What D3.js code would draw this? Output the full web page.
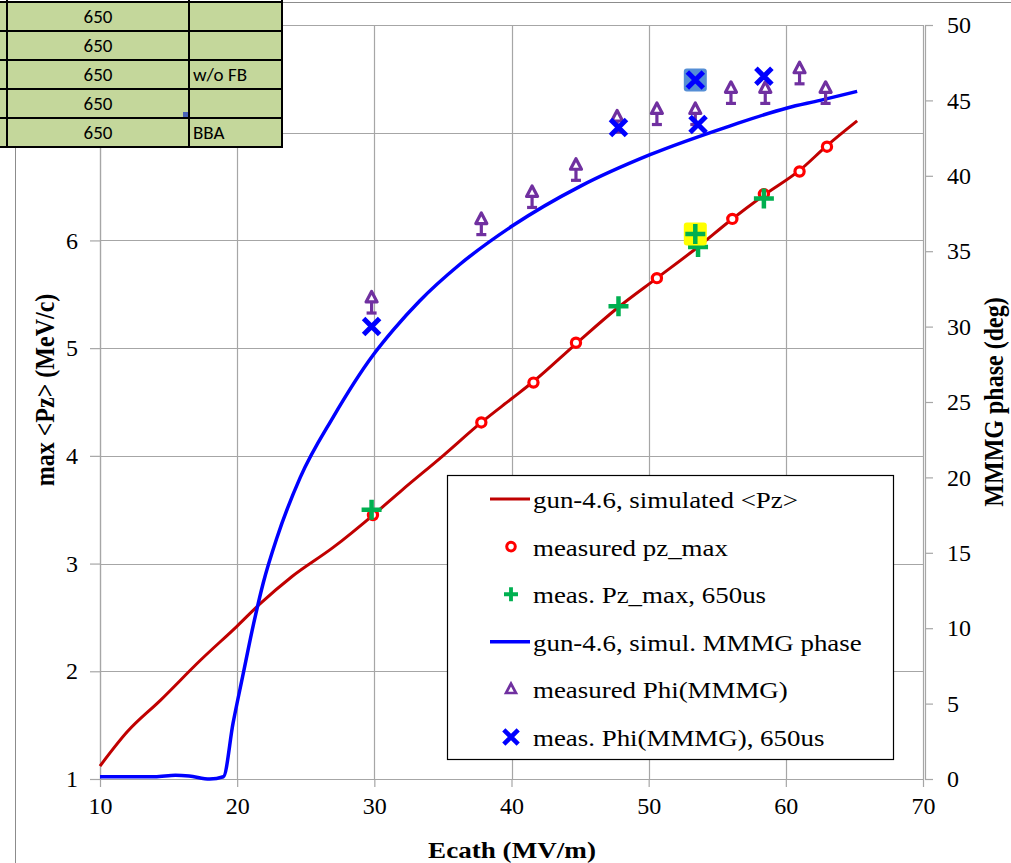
<!DOCTYPE html>
<html>
<head>
<meta charset="utf-8">
<script src="https://cdn.jsdelivr.net/npm/d3@7"></script>
<style>
  body { margin: 0; background: #fff; }
  svg { display: block; }
</style>
</head>
<body>
<svg id="chart" width="1011" height="863"></svg>
<script>
// simulated <Pz> (gun-4.6)
var simPzEcath = [10, 12, 14.4, 17.3, 20, 21.7, 24, 27, 30, 32, 35, 37.8, 40, 41.6, 44.7, 47.7, 50.6, 53.5, 56, 58.4, 61, 63, 65.2];
var simPzValue = [1.12, 1.44, 1.73, 2.10, 2.42, 2.63, 2.88, 3.15, 3.46, 3.68, 4.0, 4.31, 4.53, 4.69, 5.04, 5.37, 5.65, 5.93, 6.19, 6.42, 6.65, 6.88, 7.11];

// simulated MMMG phase (gun-4.6)
var simPhiEcath = [10, 12, 14, 15.5, 16.5, 18, 19, 19.7, 20.4, 21.2, 21.9, 22.9, 24.6, 27, 29.9, 31.4, 33.3, 36.2, 40.1, 45, 50.1, 55.9, 60.1, 62.5, 65.2];
var simPhiValue = [0.15, 0.15, 0.15, 0.25, 0.2, 0, 0.15, 3.7, 6.8, 10.3, 13.0, 16.0, 20.0, 24.0, 28.1, 29.8, 31.7, 34.1, 36.7, 39.3, 41.4, 43.3, 44.5, 45.0, 45.6];

// measured pz_max
var measPzEcath = [29.9, 37.8, 41.6, 44.7, 50.6, 56.1, 58.4, 61, 63];
var measPzValue = [3.45, 4.31, 4.68, 5.05, 5.65, 6.2, 6.43, 6.64, 6.87];

// meas. Pz_max, 650us
var pz650Ecath = [29.8, 47.8, 53.6, 58.4, 53.4];
var pz650Value = [3.5, 5.39, 5.94, 6.39, 6.06];
var pz650Selected = [false, false, false, false, true];

// measured Phi(MMMG) with lower error
var measPhiEcath = [29.8, 37.8, 41.5, 44.7, 47.7, 50.6, 53.4, 56.0, 58.5, 61.0, 62.9];
var measPhiValue = [31.9, 37.1, 38.9, 40.7, 43.9, 44.4, 44.4, 45.8, 45.8, 47.1, 45.8];
var measPhiErr = [1.0, 1.0, 1.0, 1.0, 1.0, 1.0, 1.0, 1.0, 1.0, 1.0, 1.0];

// meas. Phi(MMMG), 650us
var phi650Ecath = [29.8, 47.8, 53.6, 58.4, 53.4];
var phi650Value = [30.0, 43.2, 43.4, 46.6, 46.35];
var phi650Selected = [false, false, false, false, true];

var xTicks = [10, 20, 30, 40, 50, 60, 70];
var yLeftTicks = [1, 2, 3, 4, 5, 6, 7, 8];
var yRightTicks = [0, 5, 10, 15, 20, 25, 30, 35, 40, 45, 50];

var legendLabels = [
  "gun-4.6, simulated <Pz>",
  "measured pz_max",
  "meas. Pz_max, 650us",
  "gun-4.6, simul. MMMG phase",
  "measured Phi(MMMG)",
  "meas. Phi(MMMG), 650us"
];

var tableCol2 = ["650", "650", "650", "650", "650"];
var tableCol3 = ["", "", "w/o FB", "", "BBA"];

var serif = "Liberation Serif, Times New Roman, serif";
var svg = d3.select("#chart");

var xScale = d3.scaleLinear().domain([10, 70]).range([100, 923]);
var yLeft = d3.scaleLinear().domain([1, 8]).range([779, 25]);
var yRight = d3.scaleLinear().domain([0, 50]).range([779, 25]);

// outer chart border
svg.append("rect")
    .attr("x", 15.5).attr("y", 2.5)
    .attr("width", 1100).attr("height", 1000)
    .attr("fill", "none")
    .attr("stroke", "#8c8c8c");

// gridlines
var grid = svg.append("g").attr("stroke", "#a6a6a6").attr("stroke-width", 1.2);
grid.selectAll(".vg")
  .data(xTicks)
  .enter().append("line")
    .attr("x1", d => Math.round(xScale(d)) + 0.5)
    .attr("x2", d => Math.round(xScale(d)) + 0.5)
    .attr("y1", yLeft(8)).attr("y2", yLeft(1));
grid.selectAll(".hg")
  .data(yLeftTicks)
  .enter().append("line")
    .attr("x1", xScale(10)).attr("x2", xScale(70))
    .attr("y1", d => Math.round(yLeft(d)) + 0.5)
    .attr("y2", d => Math.round(yLeft(d)) + 0.5);

// axes
function styleAxis(g) {
  g.attr("font-family", serif).attr("font-size", 24);
  g.select(".domain").attr("stroke", "#a6a6a6").attr("stroke-width", 1.2);
  g.selectAll(".tick line").attr("stroke", "#a6a6a6").attr("stroke-width", 1.2);
  g.selectAll(".tick text")
      .attr("fill", "#000")
      .attr("font-family", serif)
      .attr("font-size", 24);
}

var intFmt = d3.format("d");

svg.append("g")
    .attr("transform", "translate(0," + yLeft(1) + ")")
    .call(d3.axisBottom(xScale).tickValues(xTicks).tickFormat(intFmt)
            .tickSize(8).tickSizeOuter(0).tickPadding(10))
    .call(styleAxis);

svg.append("g")
    .attr("transform", "translate(" + xScale(10) + ",0)")
    .call(d3.axisLeft(yLeft).tickValues(yLeftTicks).tickFormat(intFmt)
            .tickSize(10).tickSizeOuter(0).tickPadding(12))
    .call(styleAxis);

svg.append("g")
    .attr("transform", "translate(" + (xScale(70) + 2) + ",0)")
    .call(d3.axisRight(yRight).tickValues(yRightTicks).tickFormat(intFmt)
            .tickSize(8).tickSizeOuter(0).tickPadding(14))
    .call(styleAxis);

// axis titles
svg.append("text")
    .attr("transform", "translate(512,858) scale(1.13,1)")
    .attr("text-anchor", "middle")
    .attr("font-family", serif)
    .attr("font-size", 24)
    .attr("font-weight", "bold")
    .text("Ecath (MV/m)");

svg.append("text")
    .attr("transform", "translate(54,390) rotate(-90) scale(1,1.15)")
    .attr("text-anchor", "middle")
    .attr("font-family", serif)
    .attr("font-size", 24)
    .attr("font-weight", "bold")
    .text("max <Pz> (MeV/c)");

svg.append("text")
    .attr("transform", "translate(1003,402) rotate(-90) scale(1,1.15)")
    .attr("text-anchor", "middle")
    .attr("font-family", serif)
    .attr("font-size", 24)
    .attr("font-weight", "bold")
    .text("MMMG phase (deg)");

// simulated lines
var pzLine = d3.line()
               .x(d => xScale(d[0]))
               .y(d => yLeft(d[1]))
               .curve(d3.curveMonotoneX);
var phiLine = d3.line()
                .x(d => xScale(d[0]))
                .y(d => yRight(d[1]))
                .curve(d3.curveMonotoneX);

svg.append("path")
    .datum(d3.zip(simPzEcath, simPzValue))
    .attr("fill", "none")
    .attr("stroke", "#c00000")
    .attr("stroke-width", 3)
    .attr("d", pzLine);

svg.append("path")
    .datum(d3.zip(simPhiEcath, simPhiValue))
    .attr("fill", "none")
    .attr("stroke", "#0000ff")
    .attr("stroke-width", 3.5)
    .attr("stroke-linejoin", "round")
    .attr("d", phiLine);

// marker shapes
var plusPath = "M-10,0H10M0,-10V10";
var crossPath = "M-8,-8L8,8M-8,8L8,-8";
var triPath = "M0,-6.5L5.5,4L-5.5,4Z";

// measured Phi(MMMG): error bar + triangle
var phiData = measPhiEcath.map((e, i) => ({ x: e, y: measPhiValue[i], err: measPhiErr[i] }));
var tri = svg.append("g").selectAll(".tri")
  .data(phiData)
  .enter().append("g")
    .attr("transform", d => "translate(" + xScale(d.x) + "," + yRight(d.y) + ")");
tri.append("line")
    .attr("x1", 0).attr("x2", 0)
    .attr("y1", 0).attr("y2", d => yRight(d.y - d.err) - yRight(d.y))
    .attr("stroke", "#7030a0").attr("stroke-width", 3.2);
tri.append("line")
    .attr("x1", -5).attr("x2", 5)
    .attr("y1", d => yRight(d.y - d.err) - yRight(d.y))
    .attr("y2", d => yRight(d.y - d.err) - yRight(d.y))
    .attr("stroke", "#7030a0").attr("stroke-width", 3.2);
tri.append("path")
    .attr("d", triPath)
    .attr("fill", "#fff")
    .attr("stroke", "#7030a0")
    .attr("stroke-width", 3.2)
    .attr("stroke-linejoin", "round");

// measured pz_max circles
svg.append("g").selectAll("circle")
  .data(d3.zip(measPzEcath, measPzValue))
  .enter().append("circle")
    .attr("cx", d => xScale(d[0]))
    .attr("cy", d => yLeft(d[1]))
    .attr("r", 4.6)
    .attr("fill", "#fff")
    .attr("stroke", "#ff0000")
    .attr("stroke-width", 3.2);

// meas. Pz_max 650us plus
var pzSel = svg.append("g").selectAll(".plus")
  .data(d3.zip(pz650Ecath, pz650Value, pz650Selected))
  .enter().append("g")
    .attr("transform", d => "translate(" + xScale(d[0]) + "," + yLeft(d[1]) + ")");
pzSel.filter(d => d[2]).append("rect")
    .attr("x", -11.5).attr("y", -11.5)
    .attr("width", 23).attr("height", 23)
    .attr("rx", 3)
    .attr("fill", "#ffff00");
pzSel.append("path")
    .attr("d", plusPath)
    .attr("stroke", "#00b050")
    .attr("stroke-width", 4.5);

// meas. Phi 650us crosses
var phiSel = svg.append("g").selectAll(".cross")
  .data(d3.zip(phi650Ecath, phi650Value, phi650Selected))
  .enter().append("g")
    .attr("transform", d => "translate(" + xScale(d[0]) + "," + yRight(d[1]) + ")");
phiSel.filter(d => d[2]).append("rect")
    .attr("x", -11.5).attr("y", -11.5)
    .attr("width", 23).attr("height", 23)
    .attr("rx", 3)
    .attr("fill", "#558ed5");
phiSel.append("path")
    .attr("d", crossPath)
    .attr("stroke", "#0000ff")
    .attr("stroke-width", 5);

// legend
var legend = svg.append("g");
legend.append("rect")
    .attr("x", 447.5).attr("y", 475.5)
    .attr("width", 446).attr("height", 284)
    .attr("fill", "#fff")
    .attr("stroke", "#000")
    .attr("stroke-width", 1.2);

var rows = legend.selectAll(".row")
  .data(legendLabels)
  .enter().append("g")
    .attr("transform", (d, i) => "translate(0," + (499 + i * 47.6) + ")");

rows.append("text")
    .attr("transform", "translate(533,9) scale(1.17,1)")
    .attr("font-family", serif)
    .attr("font-size", 23)
    .text(d => d);

rows.filter((d, i) => i === 0).append("line")
    .attr("x1", 490).attr("x2", 530).attr("y1", 0).attr("y2", 0)
    .attr("stroke", "#c00000").attr("stroke-width", 3);
rows.filter((d, i) => i === 3).append("line")
    .attr("x1", 490).attr("x2", 530).attr("y1", 0).attr("y2", 0)
    .attr("stroke", "#0000ff").attr("stroke-width", 3.5);
rows.filter((d, i) => i === 1).append("circle")
    .attr("cx", 511).attr("cy", 0).attr("r", 4.3)
    .attr("fill", "#fff").attr("stroke", "#ff0000").attr("stroke-width", 3);
rows.filter((d, i) => i === 2).append("path")
    .attr("transform", "translate(511,0) scale(0.7)")
    .attr("d", plusPath)
    .attr("stroke", "#00b050").attr("stroke-width", 5.5);
rows.filter((d, i) => i === 4).append("path")
    .attr("transform", "translate(511,0) scale(0.9)")
    .attr("d", triPath)
    .attr("fill", "#fff").attr("stroke", "#7030a0").attr("stroke-width", 3);
rows.filter((d, i) => i === 5).append("path")
    .attr("transform", "translate(511,0) scale(0.9)")
    .attr("d", crossPath)
    .attr("stroke", "#0000ff").attr("stroke-width", 5);

// spreadsheet cells over the top-left corner
var table = svg.append("g");
var rowH = 29;
var cells = table.selectAll(".cellrow")
  .data(tableCol2)
  .enter().append("g")
    .attr("transform", (d, i) => "translate(0," + (2 + i * rowH) + ")");
cells.append("rect")
    .attr("x", -2).attr("y", 0)
    .attr("width", 284).attr("height", rowH)
    .attr("fill", "#c4d79b");
cells.append("text")
    .attr("x", 98).attr("y", 21)
    .attr("text-anchor", "middle")
    .attr("font-family", "Carlito, Calibri, Liberation Sans, sans-serif")
    .attr("font-size", 19)
    .text(d => d);
cells.append("text")
    .attr("x", 193).attr("y", 21)
    .attr("font-family", "Carlito, Calibri, Liberation Sans, sans-serif")
    .attr("font-size", 19)
    .text((d, i) => tableCol3[i]);

var gridG = table.append("g").attr("stroke", "#000").attr("stroke-width", 2);
d3.range(tableCol2.length + 1).forEach(i => {
  gridG.append("line")
      .attr("x1", 0).attr("x2", 283)
      .attr("y1", 2 + i * rowH).attr("y2", 2 + i * rowH);
});
[7, 189, 282].forEach(x => {
  gridG.append("line")
      .attr("x1", x).attr("x2", x)
      .attr("y1", 0).attr("y2", 2 + tableCol2.length * rowH);
});
table.append("rect")
    .attr("x", 183).attr("y", 112)
    .attr("width", 5).attr("height", 5)
    .attr("fill", "#4a63b8");
</script>
</body>
</html>
